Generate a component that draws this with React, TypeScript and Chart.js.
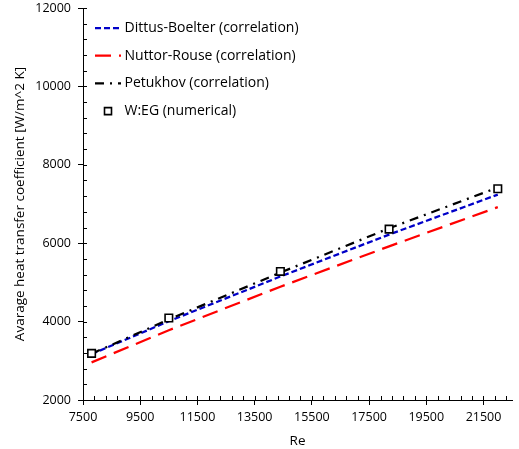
import React, { useEffect, useRef } from "react";
import { Chart, registerables } from "chart.js";

Chart.register(...registerables);

const RE_VALUES = [7800, 10500, 14400, 18200, 22000];
const DITTUS_BOELTER = [3170, 4010, 5150, 6220, 7240];
const NUTTOR_ROUSE = [2960, 3780, 4890, 5920, 6920];
const PETUKHOV = [3180, 4055, 5250, 6380, 7420];
const W_EG = [3190, 4090, 5280, 6360, 7390];

const X_TICKS = [7500, 9500, 11500, 13500, 15500, 17500, 19500, 21500];
const Y_TICKS = [2000, 4000, 6000, 8000, 10000, 12000];

const SERIES_LABELS = [
  "Dittus-Boelter (correlation)",
  "Nuttor-Rouse (correlation)",
  "Petukhov (correlation)",
  "W:EG (numerical)",
];

const FONT = "'Open Sans', 'DejaVu Sans', sans-serif";

const toXY = (ys: number[]) => RE_VALUES.map((x, i) => ({ x, y: ys[i] }));

const minorTicksPlugin = {
  id: "minorTicks",
  afterDraw(chart: any) {
    const ctx = chart.ctx;
    const xs = chart.scales.x;
    const ys = chart.scales.y;
    const area = chart.chartArea;
    ctx.save();
    ctx.strokeStyle = "#000";
    ctx.lineWidth = 1;
    ctx.beginPath();
    for (let v = xs.min; v <= xs.max + 1e-6; v += 400) {
      const px = Math.round(xs.getPixelForValue(v)) + 0.5;
      ctx.moveTo(px, area.bottom);
      ctx.lineTo(px, area.bottom - 4);
    }
    for (let v = ys.min; v <= ys.max + 1e-6; v += 400) {
      const py = Math.round(ys.getPixelForValue(v)) + 0.5;
      ctx.moveTo(area.left, py);
      ctx.lineTo(area.left + 4, py);
    }
    ctx.stroke();
    ctx.restore();
  },
};

const legendPlugin = {
  id: "insideLegend",
  afterDraw(chart: any) {
    const ctx = chart.ctx;
    const sets = chart.data.datasets;
    const x0 = 95;
    const x1 = 121;
    const tx = 124.5;
    const yStart = 28;
    const step = 27.7;
    ctx.save();
    ctx.font = `14px ${FONT}`;
    ctx.textBaseline = "middle";
    ctx.textAlign = "left";
    SERIES_LABELS.forEach((label, i) => {
      const ds = sets[i];
      const y = yStart + step * i;
      if (ds.showLine === false) {
        ctx.setLineDash([]);
        ctx.lineWidth = ds.pointBorderWidth;
        ctx.strokeStyle = ds.pointBorderColor;
        ctx.fillStyle = ds.pointBackgroundColor;
        const s = 7;
        ctx.beginPath();
        ctx.rect(108 - s / 2, y - s / 2, s, s);
        ctx.fill();
        ctx.stroke();
      } else {
        ctx.setLineDash(ds.borderDash || []);
        ctx.lineWidth = ds.borderWidth;
        ctx.strokeStyle = ds.borderColor;
        ctx.lineCap = "butt";
        ctx.beginPath();
        ctx.moveTo(x0, y);
        ctx.lineTo(x1, y);
        ctx.stroke();
      }
      ctx.setLineDash([]);
      ctx.fillStyle = "#000";
      ctx.fillText(label, tx, y);
    });
    ctx.restore();
  },
};

export default function App() {
  const ref = useRef<HTMLCanvasElement | null>(null);

  useEffect(() => {
    if (!ref.current) return;
    const chart = new Chart(ref.current, {
      type: "scatter",
      data: {
        datasets: [
          {
            label: SERIES_LABELS[0],
            data: toXY(DITTUS_BOELTER),
            showLine: true,
            borderColor: "#0000C8",
            borderWidth: 2.25,
            borderDash: [6, 3],
            pointRadius: 0,
            tension: 0,
            order: 2,
          },
          {
            label: SERIES_LABELS[1],
            data: toXY(NUTTOR_ROUSE),
            showLine: true,
            borderColor: "#FF0000",
            borderWidth: 2.25,
            borderDash: [16, 8],
            pointRadius: 0,
            tension: 0,
            order: 3,
          },
          {
            label: SERIES_LABELS[2],
            data: toXY(PETUKHOV),
            showLine: true,
            borderColor: "#000000",
            borderWidth: 2.25,
            borderDash: [9, 6, 2, 6],
            pointRadius: 0,
            tension: 0,
            order: 1,
          },
          {
            label: SERIES_LABELS[3],
            data: toXY(W_EG),
            showLine: false,
            pointStyle: "rect",
            pointRadius: 5.3,
            pointBorderWidth: 1.6,
            pointBorderColor: "#000000",
            pointBackgroundColor: "#FFFFFF",
            order: 0,
          } as any,
        ],
      },
      options: {
        responsive: false,
        animation: false,
        layout: { padding: { top: 8, right: 1, bottom: 0, left: 0 } },
        plugins: {
          legend: { display: false },
          tooltip: { enabled: false },
        },
        scales: {
          x: {
            type: "linear",
            min: 7500,
            max: 22500,
            afterBuildTicks: (scale: any) => {
              scale.ticks = X_TICKS.map((v) => ({ value: v }));
            },
            afterFit: (scale: any) => {
              scale.height = 49;
            },
            grid: {
              drawOnChartArea: false,
              drawTicks: true,
              tickLength: 5,
              color: "#000",
            },
            border: { display: true, color: "#000", width: 1 },
            ticks: {
              color: "#000",
              padding: 5,
              maxRotation: 0,
              autoSkip: false,
              font: { family: FONT, size: 12.5 },
              callback: (v: any) => String(v),
            },
            title: {
              display: true,
              text: "Re",
              color: "#000",
              font: { family: FONT, size: 13.5 },
              padding: { top: 2, bottom: 0 },
            },
          },
          y: {
            type: "linear",
            min: 2000,
            max: 12000,
            afterBuildTicks: (scale: any) => {
              scale.ticks = Y_TICKS.map((v) => ({ value: v }));
            },
            afterFit: (scale: any) => {
              scale.width = 83;
              scale.paddingTop = 0;
              scale.paddingBottom = 0;
            },
            grid: {
              drawOnChartArea: false,
              drawTicks: true,
              tickLength: 5,
              color: "#000",
            },
            border: { display: true, color: "#000", width: 1 },
            ticks: {
              color: "#000",
              padding: 7,
              autoSkip: false,
              font: { family: FONT, size: 12.5 },
              callback: (v: any) => String(v),
            },
            title: {
              display: true,
              text: "Avarage heat transfer coefficient [W/m^2 K]",
              color: "#000",
              font: { family: FONT, size: 13.5 },
              padding: { top: 12, bottom: 0 },
            },
          },
        },
      },
      plugins: [minorTicksPlugin, legendPlugin],
    } as any);
    return () => chart.destroy();
  }, []);

  return (
    <div style={{ position: "fixed", left: 0, top: 0, width: 519, height: 449, background: "#fff" }}>
      <canvas ref={ref} width={519} height={449} style={{ width: 519, height: 449, display: "block" }} />
    </div>
  );
}
